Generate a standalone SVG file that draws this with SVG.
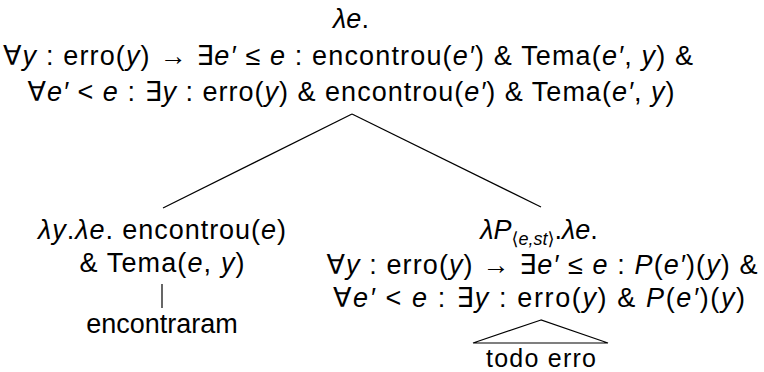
<svg xmlns="http://www.w3.org/2000/svg" width="764" height="372" viewBox="0 0 764 372">
<style>
text{font-family:"Liberation Sans","DejaVu Sans",sans-serif;font-size:27px;fill:#000;text-anchor:middle}
.i{font-style:italic}
.s{font-size:18px}
.b{font-family:"DejaVu Sans",sans-serif;font-style:normal}
.c line,.c polygon{stroke:#000;stroke-width:1.2;fill:none}
</style>
<rect width="764" height="372" fill="#fff"/>
<g class="c" id="connectors">
<line x1="352" y1="114" x2="163" y2="208"/>
<line x1="352" y1="114" x2="541" y2="207"/>
<line x1="162" y1="284" x2="162" y2="308"/>
<polygon points="541,320 473,343 608,343"/>
</g>
<g id="root">
<text x="351" y="28"><tspan class="i">λe</tspan>.</text>
<text x="348" y="65" textLength="690" lengthAdjust="spacing">∀<tspan class="i">y</tspan> : erro(<tspan class="i">y</tspan>) → ∃<tspan class="i">e′</tspan> ≤ <tspan class="i">e</tspan> : encontrou(<tspan class="i">e′</tspan>) &amp; Tema(<tspan class="i">e′</tspan>, <tspan class="i">y</tspan>) &amp;</text>
<text x="351" y="101" textLength="647" lengthAdjust="spacing">∀<tspan class="i">e′</tspan> &lt; <tspan class="i">e</tspan> : ∃<tspan class="i">y</tspan> : erro(<tspan class="i">y</tspan>) &amp; encontrou(<tspan class="i">e′</tspan>) &amp; Tema(<tspan class="i">e′</tspan>, <tspan class="i">y</tspan>)</text>
</g>
<g id="verb">
<text x="162" y="239" textLength="248" lengthAdjust="spacing"><tspan class="i">λy</tspan>.<tspan class="i">λe</tspan>. encontrou(<tspan class="i">e</tspan>)</text>
<text x="162" y="272" textLength="165" lengthAdjust="spacing">&amp; Tema(<tspan class="i">e</tspan>, <tspan class="i">y</tspan>)</text>
</g>
<g id="verb-word">
<text x="162" y="333">encontraram</text>
</g>
<g id="quantifier">
<text x="539" y="239"><tspan class="i">λP</tspan><tspan class="s" dy="6"><tspan class="b">⟨</tspan><tspan class="i">e,st</tspan><tspan class="b">⟩</tspan></tspan><tspan dy="-6">.</tspan><tspan class="i">λe</tspan>.</text>
<text x="542" y="274" textLength="431" lengthAdjust="spacing">∀<tspan class="i">y</tspan> : erro(<tspan class="i">y</tspan>) → ∃<tspan class="i">e′</tspan> ≤ <tspan class="i">e</tspan> : <tspan class="i">P</tspan>(<tspan class="i">e′</tspan>)(<tspan class="i">y</tspan>) &amp;</text>
<text x="539" y="307" textLength="412" lengthAdjust="spacing">∀<tspan class="i">e′</tspan> &lt; <tspan class="i">e</tspan> : ∃<tspan class="i">y</tspan> : erro(<tspan class="i">y</tspan>) &amp; <tspan class="i">P</tspan>(<tspan class="i">e′</tspan>)(<tspan class="i">y</tspan>)</text>
</g>
<g id="quantifier-word">
<text x="541" y="367" style="font-size:25px" textLength="110" lengthAdjust="spacing">todo erro</text>
</g>
</svg>
